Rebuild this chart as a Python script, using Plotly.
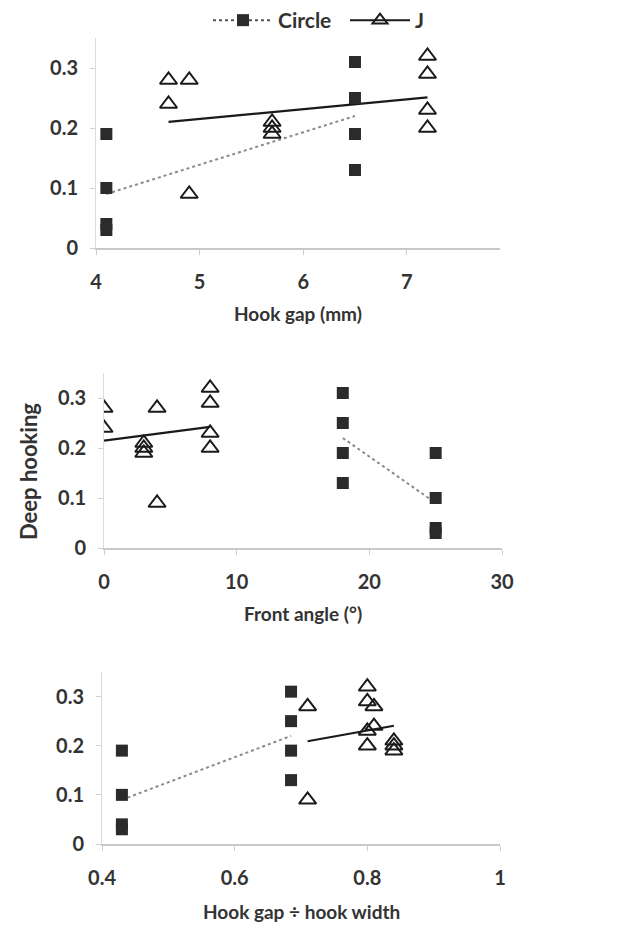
import numpy as np
import plotly.graph_objects as go

# ---- data ----
circle_gap = [4.1, 4.1, 4.1, 4.1, 6.5, 6.5, 6.5, 6.5]
circle_angle = [25, 25, 25, 25, 18, 18, 18, 18]
circle_ratio = [0.43, 0.43, 0.43, 0.43, 0.685, 0.685, 0.685, 0.685]
circle_deep = [0.19, 0.10, 0.04, 0.03, 0.31, 0.25, 0.19, 0.13]

j_gap = [4.7, 4.7, 4.9, 4.9, 5.7, 5.7, 5.7, 7.2, 7.2, 7.2, 7.2]
j_angle = [0, 0, 4, 4, 3, 3, 3, 8, 8, 8, 8]
j_ratio = [0.81, 0.81, 0.71, 0.71, 0.84, 0.84, 0.84, 0.80, 0.80, 0.80, 0.80]
j_deep = [0.28, 0.24, 0.28, 0.09, 0.21, 0.20, 0.19, 0.32, 0.29, 0.23, 0.20]

x_titles = ["Hook gap (mm)", "Front angle (°)", "Hook gap ÷ hook width"]
x_ranges = [[4, 7.9], [0, 30], [0.4, 1.0]]
x_ticks = [[4, 5, 6, 7], [0, 10, 20, 30], [0.4, 0.6, 0.8, 1.0]]
x_ticktext = [["4", "5", "6", "7"], ["0", "10", "20", "30"], ["0.4", "0.6", "0.8", "1"]]
y_ticks = [0, 0.1, 0.2, 0.3]
y_ticktext = ["0", "0.1", "0.2", "0.3"]

FONT = "Lato, 'Open Sans', sans-serif"
TXT = "#333333"
SQ = "#2b2b2b"

# page body has an 8px margin, so the figure is 8px smaller than the window
OFF = 8
W, H = 642 - OFF, 925 - OFF
panels = [
    # x0px, x1px, y_bottom_px(0), y_top_px(0.35), title center y px  (window coords)
    (96, 500, 248, 38, 314),
    (104, 502, 548, 373, 613),
    (102, 500, 844, 672, 911),
]


def px(v):
    return v - OFF


fig = go.Figure()


def fit_line(xs, ys):
    m, b = np.polyfit(xs, ys, 1)
    x0, x1 = min(xs), max(xs)
    return [x0, x1], [m * x0 + b, m * x1 + b]


xs_circle = [circle_gap, circle_angle, circle_ratio]
xs_j = [j_gap, j_angle, j_ratio]

for i in range(3):
    ax = "" if i == 0 else str(i + 1)
    xa, ya = "x" + ax, "y" + ax
    lx, ly = fit_line(xs_circle[i], circle_deep)
    fig.add_trace(go.Scatter(x=lx, y=ly, mode="lines", xaxis=xa, yaxis=ya,
                             line=dict(color="#8a8a8a", width=2, dash="dot"),
                             showlegend=False, hoverinfo="skip"))
    lx, ly = fit_line(xs_j[i], j_deep)
    fig.add_trace(go.Scatter(x=lx, y=ly, mode="lines", xaxis=xa, yaxis=ya,
                             line=dict(color="#1a1a1a", width=2.2),
                             showlegend=False, hoverinfo="skip"))
    fig.add_trace(go.Scatter(x=xs_circle[i], y=circle_deep, mode="markers",
                             xaxis=xa, yaxis=ya, name="Circle",
                             marker=dict(symbol="square", size=12, color=SQ),
                             showlegend=False))
    fig.add_trace(go.Scatter(x=xs_j[i], y=j_deep, mode="markers",
                             xaxis=xa, yaxis=ya, name="J",
                             marker=dict(symbol="triangle-up-open", size=15,
                                         color="#1a1a1a", line=dict(width=2)),
                             showlegend=False))

fig.add_trace(go.Scatter(x=[None], y=[None], mode="lines+markers", name="Circle",
                         line=dict(color="#555555", width=2, dash="dot"),
                         marker=dict(symbol="square", size=12, color=SQ)))
fig.add_trace(go.Scatter(x=[None], y=[None], mode="lines+markers", name="J",
                         line=dict(color="#1a1a1a", width=2),
                         marker=dict(symbol="triangle-up-open", size=13,
                                     color="#1a1a1a", line=dict(width=2))))

layout = dict(
    width=W, height=H,
    margin=dict(l=0, r=0, t=0, b=0, autoexpand=False),
    paper_bgcolor="white", plot_bgcolor="white",
    font=dict(family=FONT, size=18, color=TXT),
    showlegend=True,
    legend=dict(orientation="h", x=px(208) / W, y=1 - px(0) / H, xanchor="left", yanchor="top",
                font=dict(size=21, color=TXT, weight="bold"), bgcolor="rgba(0,0,0,0)",
                itemwidth=60, entrywidth=62, entrywidthmode="pixels"),
)

for i, (x0, x1, yb, yt, ty) in enumerate(panels):
    ax = "" if i == 0 else str(i + 1)
    layout["xaxis" + ax] = dict(
        domain=[px(x0) / W, px(x1) / W], range=x_ranges[i], anchor="y" + ax,
        tickvals=x_ticks[i], ticktext=x_ticktext[i], automargin=False,
        showgrid=False, zeroline=False, showline=True, linecolor="#c8c8c8", linewidth=2,
        ticks="outside", ticklen=5, tickcolor="#d0d0d0", ticklabelstandoff=10,
        tickfont=dict(size=20, color=TXT, weight="bold"),
    )
    layout["yaxis" + ax] = dict(
        domain=[1 - px(yb) / H, 1 - px(yt) / H], range=[0, 0.35], anchor="x" + ax,
        tickvals=y_ticks, ticktext=y_ticktext, automargin=False,
        showgrid=False, zeroline=False, showline=True, linecolor="#dcdcdc", linewidth=1,
        ticks="outside", ticklen=5, tickcolor="#d0d0d0", ticklabelstandoff=8,
        tickfont=dict(size=20, color=TXT, weight="bold"),
    )
    fig.add_annotation(text=x_titles[i], xref="paper", yref="paper",
                       x=px((x0 + x1) / 2) / W, y=1 - px(ty) / H, showarrow=False,
                       xanchor="center", yanchor="middle",
                       font=dict(size=19, color=TXT, family=FONT, weight="bold"))

fig.update_layout(**layout)
fig.add_annotation(text="Deep hooking", textangle=-90, xref="paper", yref="paper",
                   x=px(28) / W, y=1 - px(472) / H, showarrow=False,
                   xanchor="center", yanchor="middle",
                   font=dict(size=22, color=TXT, family=FONT, weight="bold"))

fig.write_html("out.html")
